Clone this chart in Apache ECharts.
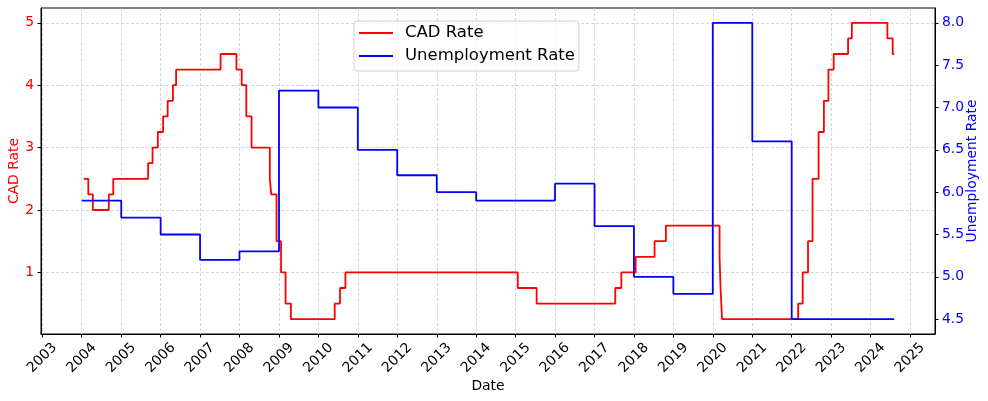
<!DOCTYPE html>
<html>
<head>
<meta charset="utf-8">
<script src="https://cdn.jsdelivr.net/npm/echarts@6/dist/echarts.min.js"></script>
<style>
html,body{margin:0;padding:0;background:#fff;}
#chart{width:988px;height:401px;}
</style>
</head>
<body>
<div id="chart"></div>
<script>
// CAD policy rate: change dates and values (step held until next date)
const cadDates = ['2004-01-20','2004-03-02','2004-04-13','2004-09-08','2004-10-19','2005-09-07','2005-10-18','2005-12-06',
  '2006-01-24','2006-03-07','2006-04-25','2006-05-24','2007-07-10','2007-12-04','2008-01-22','2008-03-04','2008-04-22',
  '2008-10-08','2008-10-21','2008-12-09','2009-01-20','2009-03-03','2009-04-21','2010-06-01','2010-07-20','2010-09-08',
  '2015-01-21','2015-07-15','2017-07-12','2017-09-06','2018-01-17','2018-07-11','2018-10-24','2020-03-04','2020-03-13',
  '2020-03-27','2022-03-02','2022-04-13','2022-06-01','2022-07-13','2022-09-07','2022-10-26','2022-12-07','2023-01-25',
  '2023-06-07','2023-07-12','2024-06-05','2024-07-24','2024-08-07'];
const cadValues = [2.5,2.25,2.0,2.25,2.5,2.75,3.0,3.25,
  3.5,3.75,4.0,4.25,4.5,4.25,4.0,3.5,3.0,
  2.5,2.25,1.5,1.0,0.5,0.25,0.5,0.75,1.0,
  0.75,0.5,0.75,1.0,1.25,1.5,1.75,1.25,0.75,
  0.25,0.5,1.0,1.5,2.5,3.25,3.75,4.25,4.5,
  4.75,5.0,4.75,4.5,4.5];

// Unemployment rate: yearly values (step held until next date)
const unempDates = ['2004-01-01','2005-01-01','2006-01-01','2007-01-01','2008-01-01','2009-01-01','2010-01-01',
  '2011-01-01','2012-01-01','2013-01-01','2014-01-01','2015-01-01','2016-01-01','2017-01-01','2018-01-01',
  '2019-01-01','2020-01-01','2021-01-01','2022-01-01','2023-01-01','2024-01-01','2024-08-07'];
const unempValues = [5.9,5.7,5.5,5.2,5.3,7.2,7.0,6.5,6.2,6.0,5.9,5.9,6.1,5.6,5.0,4.8,8.0,6.6,4.5,4.5,4.5,4.5];

// Tick labels
const xTickLabels = ['2003','2004','2005','2006','2007','2008','2009','2010','2011','2012','2013','2014',
  '2015','2016','2017','2018','2019','2020','2021','2022','2023','2024','2025'];
const leftTicks = [1,2,3,4,5];
const rightTicks = [4.5,5.0,5.5,6.0,6.5,7.0,7.5,8.0];

const FONT = 'DejaVu Sans';
const ts = s => Date.parse(s + 'T00:00:00Z');
const xTickValues = xTickLabels.map(y => ts(y + '-01-01'));
const xMin = ts('2002-12-20');
const xMax = ts('2025-08-20');

const chart = echarts.init(document.getElementById('chart'));
chart.setOption({
  animation: false,
  textStyle: {fontFamily: FONT},
  grid: {left: 41, right: 53, top: 8, bottom: 67, show: true, borderColor: '#000', borderWidth: 1,
    outerBoundsMode: 'none', containLabel: false},
  legend: {
    left: 354, top: 21, orient: 'vertical',
    icon: 'rect', itemWidth: 34, itemHeight: 2, itemGap: 5,
    padding: [3, 4, 6, 5],
    borderColor: '#d0d0d0', borderWidth: 1, borderRadius: 3,
    backgroundColor: 'rgba(255,255,255,0.8)',
    textStyle: {fontFamily: FONT, fontSize: 16.5, color: '#000', lineHeight: 18, padding: [0, 0, 0, 7]},
    data: ['CAD Rate', 'Unemployment Rate']
  },
  xAxis: {
    type: 'value', min: xMin, max: xMax,
    name: 'Date', nameLocation: 'middle', nameGap: 45, nameMoveOverlap: false,
    nameTextStyle: {fontFamily: FONT, fontSize: 13.9, color: '#000'},
    axisLine: {show: true, lineStyle: {color: '#000', width: 1}},
    axisTick: {show: true, customValues: xTickValues, length: 3.5, lineStyle: {color: '#000'}},
    axisLabel: {
      customValues: xTickValues, rotate: 45, align: 'center', verticalAlign: 'middle', margin: 24,
      fontFamily: FONT, fontSize: 13.9, color: '#000',
      formatter: v => String(new Date(v).getUTCFullYear())
    },
    splitLine: {show: true, lineStyle: {color: '#cccccc', type: [3, 2], width: 0.8}}
  },
  yAxis: [
    {
      type: 'value', min: 0.0125, max: 5.2375, position: 'left',
      name: 'CAD Rate', nameLocation: 'middle', nameGap: 20, nameRotate: 90, nameMoveOverlap: false,
      nameTextStyle: {fontFamily: FONT, fontSize: 13.9, color: '#ff0000'},
      axisLine: {show: true, lineStyle: {color: '#000'}},
      axisTick: {show: true, customValues: leftTicks, length: 3.5, lineStyle: {color: '#000'}},
      axisLabel: {customValues: leftTicks, margin: 7, fontFamily: FONT, fontSize: 13.9, color: '#ff0000',
        formatter: v => String(v)},
      splitLine: {show: true, lineStyle: {color: '#cccccc', type: [3, 2], width: 0.8}}
    },
    {
      type: 'value', min: 4.325, max: 8.175, position: 'right',
      name: 'Unemployment Rate', nameLocation: 'middle', nameGap: 30, nameRotate: 90, nameMoveOverlap: false,
      nameTextStyle: {fontFamily: FONT, fontSize: 13.9, color: '#0000ff'},
      axisLine: {show: true, lineStyle: {color: '#000'}},
      axisTick: {show: true, customValues: rightTicks, length: 3.5, lineStyle: {color: '#000'}},
      axisLabel: {customValues: rightTicks, margin: 7, fontFamily: FONT, fontSize: 13.9, color: '#0000ff',
        formatter: v => v.toFixed(1)},
      splitLine: {show: false}
    }
  ],
  series: [
    {
      name: 'CAD Rate', type: 'line', yAxisIndex: 0, step: 'end', symbol: 'none',
      itemStyle: {color: '#ff0000'}, lineStyle: {color: '#ff0000', width: 1.8},
      data: cadDates.map((d, i) => [ts(d), cadValues[i]])
    },
    {
      name: 'Unemployment Rate', type: 'line', yAxisIndex: 1, step: 'end', symbol: 'none',
      itemStyle: {color: '#0000ff'}, lineStyle: {color: '#0000ff', width: 1.8},
      data: unempDates.map((d, i) => [ts(d), unempValues[i]])
    }
  ]
});
</script>
</body>
</html>
